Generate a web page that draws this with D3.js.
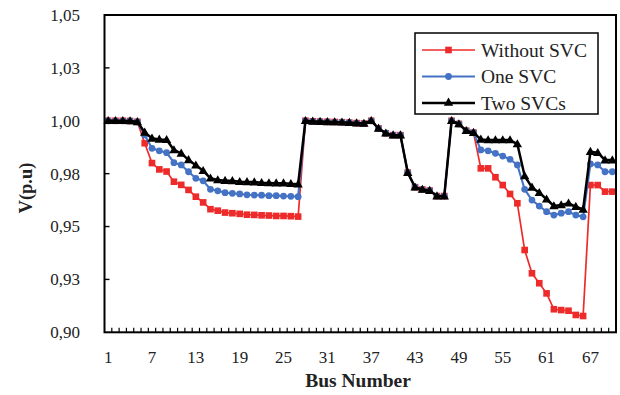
<!DOCTYPE html>
<html>
<head>
<meta charset="utf-8">
<script src="https://cdn.jsdelivr.net/npm/d3@7"></script>
<style>
  html, body { margin: 0; padding: 0; background: #ffffff; }
  svg { display: block; }
  svg text { font-family: "Liberation Serif", "Times New Roman", Times, "DejaVu Serif", serif; }
</style>
</head>
<body>
<svg id="chart" width="620" height="395"></svg>
<script>
// Bus voltage profile (p.u.) along the feeder, three compensation cases
const busNumbers = d3.range(1, 71);

const withoutSVC = [
  1.0000, 1.0000, 1.0000, 0.9999, 0.9995, 0.9894, 0.9800, 0.9770, 0.9760, 0.9712,
  0.9697, 0.9673, 0.9641, 0.9614, 0.9582, 0.9575, 0.9566, 0.9563, 0.9560, 0.9556,
  0.9555, 0.9553, 0.9552, 0.9550, 0.9550, 0.9549, 0.9547, 1.0000, 0.9997, 0.9996,
  0.9995, 0.9994, 0.9993, 0.9991, 0.9989, 0.9987, 1.0000, 0.9964, 0.9941, 0.9932,
  0.9932, 0.9755, 0.9686, 0.9675, 0.9670, 0.9644, 0.9644, 1.0000, 0.9985, 0.9953,
  0.9944, 0.9775, 0.9775, 0.9733, 0.9696, 0.9654, 0.9610, 0.9389, 0.9279, 0.9232,
  0.9184, 0.9109, 0.9105, 0.9102, 0.9082, 0.9077, 0.9696, 0.9696, 0.9665, 0.9665
];

const oneSVC = [
  1.0000, 1.0000, 1.0000, 0.9999, 0.9995, 0.9933, 0.9870, 0.9858, 0.9849, 0.9802,
  0.9791, 0.9759, 0.9728, 0.9716, 0.9676, 0.9669, 0.9660, 0.9657, 0.9654, 0.9650,
  0.9649, 0.9648, 0.9646, 0.9646, 0.9644, 0.9643, 0.9641, 1.0000, 0.9997, 0.9996,
  0.9995, 0.9994, 0.9993, 0.9991, 0.9989, 0.9987, 1.0000, 0.9964, 0.9941, 0.9932,
  0.9932, 0.9755, 0.9686, 0.9675, 0.9670, 0.9644, 0.9644, 1.0000, 0.9985, 0.9953,
  0.9944, 0.9862, 0.9858, 0.9846, 0.9833, 0.9818, 0.9791, 0.9676, 0.9625, 0.9597,
  0.9570, 0.9554, 0.9563, 0.9570, 0.9554, 0.9546, 0.9796, 0.9791, 0.9759, 0.9759
];

const twoSVCs = [
  1.0000, 1.0000, 1.0000, 0.9999, 0.9995, 0.9945, 0.9917, 0.9912, 0.9910, 0.9862,
  0.9846, 0.9815, 0.9790, 0.9764, 0.9728, 0.9720, 0.9717, 0.9716, 0.9712, 0.9711,
  0.9710, 0.9707, 0.9706, 0.9705, 0.9705, 0.9702, 0.9700, 1.0000, 0.9997, 0.9996,
  0.9995, 0.9994, 0.9993, 0.9991, 0.9989, 0.9987, 1.0000, 0.9964, 0.9941, 0.9932,
  0.9932, 0.9755, 0.9686, 0.9675, 0.9670, 0.9644, 0.9644, 1.0000, 0.9985, 0.9953,
  0.9944, 0.9912, 0.9909, 0.9909, 0.9909, 0.9909, 0.9890, 0.9739, 0.9685, 0.9660,
  0.9629, 0.9597, 0.9602, 0.9610, 0.9594, 0.9581, 0.9854, 0.9849, 0.9814, 0.9814
];

const seriesNames = ["Without SVC", "One SVC", "Two SVCs"];
const xTickBuses = [1, 7, 13, 19, 25, 31, 37, 43, 49, 55, 61, 67];
const yTickValues = [0.900, 0.925, 0.950, 0.975, 1.000, 1.025, 1.050];
const yTickLabels = ["0,90", "0,93", "0,95", "0,98", "1,00", "1,03", "1,05"];
const xAxisTitle = "Bus Number";
const yAxisTitle = "V(p.u)";

// Layout
const plot = { left: 104.5, right: 616, top: 15, bottom: 332.3 };

const svg = d3.select("#chart");

const x = d3.scaleBand()
  .domain(busNumbers)
  .range([plot.left, plot.right])
  .paddingInner(0)
  .paddingOuter(0);
const xc = b => x(b) + x.bandwidth() / 2;

const y = d3.scaleLinear()
  .domain([0.90, 1.05])
  .range([plot.bottom, plot.top]);

// Category tick marks along the bottom (inside the plot)
const catBounds = busNumbers.slice(1).map(b => x(b));
svg.append("g")
  .selectAll("line")
  .data(catBounds)
  .join("line")
  .attr("x1", d => d).attr("x2", d => d)
  .attr("y1", plot.bottom).attr("y2", plot.bottom - 4.5)
  .attr("stroke", "#000").attr("stroke-width", 1.2);

// Value tick marks along the left (inside the plot)
svg.append("g")
  .selectAll("line")
  .data(yTickValues.slice(1, -1))
  .join("line")
  .attr("x1", plot.left).attr("x2", plot.left + 5)
  .attr("y1", d => y(d)).attr("y2", d => y(d))
  .attr("stroke", "#000").attr("stroke-width", 1.4);

// Series drawing
const series = [
  { name: seriesNames[0], values: withoutSVC, color: "#ee2b2b", width: 1.7, marker: "square" },
  { name: seriesNames[1], values: oneSVC,     color: "#4472c4", width: 2.1, marker: "circle" },
  { name: seriesNames[2], values: twoSVCs,    color: "#000000", width: 2.5, marker: "triangle" }
];

const symbolFor = {
  square: d3.symbol().type(d3.symbolSquare).size(44),
  circle: d3.symbol().type(d3.symbolCircle).size(36),
  triangle: d3.symbol().type(d3.symbolTriangle).size(38)
};

const line = d3.line()
  .x((d, i) => xc(busNumbers[i]))
  .y(d => y(d));

const gSeries = svg.append("g");
series.forEach(s => {
  const g = gSeries.append("g");
  g.append("path")
    .datum(s.values)
    .attr("d", line)
    .attr("fill", "none")
    .attr("stroke", s.color)
    .attr("stroke-width", s.width)
    .attr("stroke-linejoin", "round");
  g.selectAll("path.mk")
    .data(s.values)
    .join("path")
    .attr("class", "mk")
    .attr("d", symbolFor[s.marker])
    .attr("transform", (d, i) => `translate(${xc(busNumbers[i])},${y(d) + (s.marker === "triangle" ? 0.6 : 0)})`)
    .attr("fill", s.color);
});

// Plot frame
svg.append("rect")
  .attr("x", plot.left).attr("y", plot.top)
  .attr("width", plot.right - plot.left)
  .attr("height", plot.bottom - plot.top)
  .attr("fill", "none")
  .attr("stroke", "#000")
  .attr("stroke-width", 2);

// Tick labels
svg.append("g")
  .selectAll("text")
  .data(yTickValues)
  .join("text")
  .attr("x", 80)
  .attr("y", d => y(d))
  .attr("dy", "0.35em")
  .attr("text-anchor", "end")
  .attr("font-size", 17)
  .attr("fill", "#222")
  .text((d, i) => yTickLabels[i]);

svg.append("g")
  .selectAll("text")
  .data(xTickBuses)
  .join("text")
  .attr("x", d => xc(d))
  .attr("y", 363)
  .attr("text-anchor", "middle")
  .attr("font-size", 17)
  .attr("fill", "#222")
  .text(d => d);

// Axis titles
svg.append("text")
  .attr("x", 358)
  .attr("y", 387)
  .attr("text-anchor", "middle")
  .attr("font-size", 19.5)
  .attr("font-weight", "bold")
  .attr("fill", "#222")
  .text(xAxisTitle);

svg.append("text")
  .attr("transform", "translate(32,188) rotate(-90)")
  .attr("text-anchor", "middle")
  .attr("font-size", 18.5)
  .attr("font-weight", "bold")
  .attr("fill", "#222")
  .text(yAxisTitle);

// Legend
const legend = svg.append("g");
legend.append("rect")
  .attr("x", 415).attr("y", 33)
  .attr("width", 183).attr("height", 81)
  .attr("fill", "#fff")
  .attr("stroke", "#000")
  .attr("stroke-width", 1.5);

series.forEach((s, i) => {
  const cy = 50 + i * 26.5;
  legend.append("line")
    .attr("x1", 422).attr("x2", 475)
    .attr("y1", cy).attr("y2", cy)
    .attr("stroke", s.color)
    .attr("stroke-width", s.width);
  legend.append("path")
    .attr("d", symbolFor[s.marker])
    .attr("transform", `translate(448.5,${cy})`)
    .attr("fill", s.color);
  legend.append("text")
    .attr("x", 481)
    .attr("y", cy)
    .attr("dy", "0.35em")
    .attr("font-size", 19.5)
    .attr("fill", "#222")
    .text(s.name);
});
</script>
</body>
</html>
